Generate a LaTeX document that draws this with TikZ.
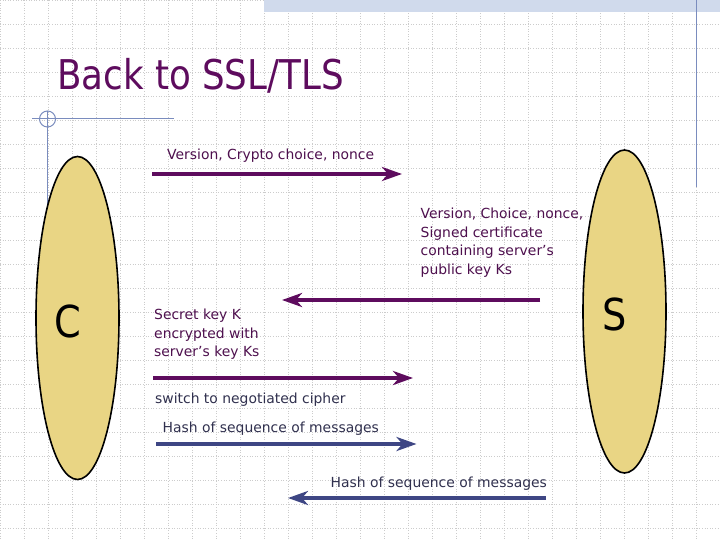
\documentclass[tikz,border=0pt]{standalone}
\usepackage{fontspec}
\setmainfont{DejaVu Sans}
\newfontfamily\titlefont{DejaVu Sans}[FakeStretch=0.87]
\usetikzlibrary{arrows.meta,shapes.geometric}
\definecolor{sslpurple}{RGB}{94,12,94}
\definecolor{sslblue}{RGB}{62,70,132}
\definecolor{labelpurple}{RGB}{78,16,78}
\definecolor{labelgray}{RGB}{48,48,78}
\definecolor{peerfill}{RGB}{233,213,132}
\definecolor{decoblue}{RGB}{122,140,190}
\definecolor{bandblue}{RGB}{208,218,236}
\tikzset{
  gridline/.style={draw=gray!40,dotted,line width=0.6pt},
  deco/.style={draw=decoblue,line width=1pt},
  peer/.style={ellipse,draw=black,line width=1.6pt,fill=peerfill,minimum width=83pt,minimum height=323pt,inner sep=0pt},
  peerletter/.style={font=\titlefont\fontsize{44}{44}\selectfont,inner sep=0pt},
  msglabel/.style={anchor=base west,inner sep=0pt,align=left,font=\fontsize{13.9}{18.8}\selectfont},
  msgpurple/.style={draw=sslpurple,line width=4.8pt,-{Stealth[length=20pt,width=14pt,inset=6pt]}},
  msgblue/.style={draw=sslblue,line width=4.8pt,-{Stealth[length=20pt,width=14pt,inset=6pt]}}
}
\begin{document}
\begin{tikzpicture}[x=1pt,y=-1pt]
\useasboundingbox[fill=white] (0,0) rectangle (720,540);
% background grid and slide decoration
\foreach \gx in {0,24,...,720} \draw[gridline] (\gx,0) -- (\gx,540);
\foreach \gy in {0,24,...,540} \draw[gridline] (0,\gy) -- (720,\gy);
\fill[bandblue] (264,0) rectangle (720,12);
\draw[deco] (696,0) -- (696,187);
\draw[deco] (32,119) -- (174,119);
\draw[deco] (47,111) -- (47,250);
\draw[deco] (47.5,119) circle[radius=8];
% title
\node[anchor=base west,inner sep=0pt,text=sslpurple,font=\titlefont\fontsize{41}{41}\selectfont] (title) at (57,90) {Back to SSL/TLS};
% client and server
\node[peer] (client) at (77.5,318) {};
\node[peerletter] (cletter) at ([xshift=-10pt,yshift=-3pt]client.center) {C};
\node[peer] (server) at (624.5,311.5) {};
\node[peerletter] (sletter) at ([xshift=-9.5pt,yshift=-2.5pt]server.center) {S};
% message 1
\node[msglabel,text=labelpurple] (hello) at (167,160) {Version, Crypto choice, nonce};
\coordinate (m1a) at (152,174);
\coordinate (m1b) at (402,174);
\draw[msgpurple] (m1a) -- (m1b);
% message 2 (base = last line)
\node[msglabel,text=labelpurple] (cert) at (420.5,274.7) {Version, Choice, nonce,\\Signed certificate\\containing server’s\\public key Ks};
\coordinate (m2a) at (540,300);
\coordinate (m2b) at (282,300);
\draw[msgpurple] (m2a) -- (m2b);
% message 3
\node[msglabel,text=labelpurple] (secret) at (154,356.9) {Secret key K\\encrypted with\\server’s key Ks};
\coordinate (m3a) at (153,378);
\coordinate (m3b) at (413,378);
\draw[msgpurple] (m3a) -- (m3b);
\node[msglabel,text=labelgray] (switch) at (155,403.3) {switch to negotiated cipher};
% message 4
\node[msglabel,text=labelgray] (hashc) at (162.5,432.7) {Hash of sequence of messages};
\coordinate (m4a) at (156,444);
\coordinate (m4b) at (416.5,444);
\draw[msgblue] (m4a) -- (m4b);
% message 5
\node[msglabel,text=labelgray] (hashs) at (330.5,487.7) {Hash of sequence of messages};
\coordinate (m5a) at (546,498);
\coordinate (m5b) at (288,498);
\draw[msgblue] (m5a) -- (m5b);
\end{tikzpicture}
\end{document}
